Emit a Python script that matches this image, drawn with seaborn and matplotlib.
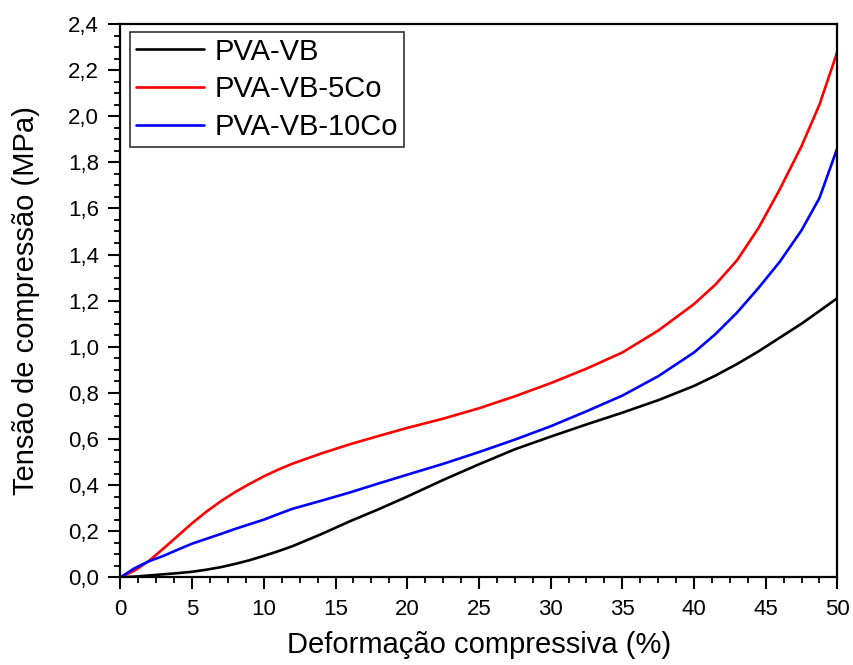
import numpy as np
import pandas as pd
import seaborn as sns
import matplotlib.pyplot as plt
from matplotlib.ticker import MultipleLocator, FuncFormatter

deformacao = [0, 1, 2, 3, 4, 5, 6, 7, 8, 9, 10, 11, 12, 14, 16, 18, 20, 22.5, 25,
              27.5, 30, 32.5, 35, 37.5, 40, 41.5, 43, 44.5, 46, 47.5, 48.75, 50]

pva_vb = [0, 0.003, 0.008, 0.013, 0.018, 0.024, 0.033, 0.044, 0.058, 0.074,
          0.093, 0.113, 0.135, 0.187, 0.243, 0.295, 0.35, 0.422, 0.49, 0.555,
          0.61, 0.663, 0.714, 0.768, 0.83, 0.875, 0.925, 0.98, 1.04, 1.10, 1.155, 1.211]

pva_vb_5co = [0, 0.03, 0.072, 0.125, 0.18, 0.235, 0.285, 0.33, 0.37, 0.405,
              0.438, 0.467, 0.493, 0.537, 0.577, 0.613, 0.648, 0.688, 0.733, 0.785,
              0.842, 0.905, 0.975, 1.07, 1.185, 1.27, 1.375, 1.515, 1.685, 1.87, 2.05, 2.28]

pva_vb_10co = [0, 0.04, 0.07, 0.093, 0.12, 0.146, 0.167, 0.188, 0.21, 0.23,
               0.25, 0.274, 0.297, 0.332, 0.368, 0.407, 0.445, 0.492, 0.543, 0.597,
               0.655, 0.72, 0.788, 0.872, 0.975, 1.055, 1.148, 1.255, 1.37, 1.505,
               1.645, 1.862]

amostras = ["PVA-VB", "PVA-VB-5Co", "PVA-VB-10Co"]
cores = ["black", "red", "blue"]

data = pd.DataFrame({
    "x": deformacao * 3,
    "y": pva_vb + pva_vb_5co + pva_vb_10co,
    "Amostra": np.repeat(amostras, len(deformacao))
})

sns.set_style("ticks")
plt.rcParams["font.family"] = ["Liberation Sans", "DejaVu Sans"]
plt.rcParams["text.color"] = "black"
plt.rcParams["axes.labelcolor"] = "black"

fig = plt.figure(figsize=(8.54, 6.65), dpi=100)
ax = fig.add_axes([0.1411, 0.1319, 0.8394, 0.832])

sns.lineplot(data=data, x="x", y="y", hue="Amostra", hue_order=amostras,
             palette=cores, linewidth=1.9, ax=ax)

ax.set_xlim(0, 50)
ax.set_ylim(0, 2.4)
ax.xaxis.set_major_locator(MultipleLocator(5))
ax.xaxis.set_minor_locator(MultipleLocator(1.25))
ax.yaxis.set_major_locator(MultipleLocator(0.2))
ax.yaxis.set_minor_locator(MultipleLocator(0.05))
ax.yaxis.set_major_formatter(FuncFormatter(lambda v, p: f"{v:.1f}".replace(".", ",")))

ax.tick_params(which="major", direction="out", length=8.5, width=1.5,
               labelsize=16, colors="black", pad=7)
ax.tick_params(which="minor", direction="out", length=4.5, width=1.3, colors="black")
for s in ax.spines.values():
    s.set_linewidth(1.6)
    s.set_color("black")

ax.set_xlabel("Deformação compressiva (%)", fontsize=21, labelpad=8, color="black")
ax.set_ylabel("Tensão de compressão (MPa)", fontsize=21, labelpad=20, color="black")

leg = ax.legend(loc="upper left", bbox_to_anchor=(0.013, 0.986), fontsize=21,
                frameon=True, fancybox=False, edgecolor="black",
                handlelength=2.35, borderpad=0.2, labelspacing=0.33,
                handletextpad=0.35, borderaxespad=0)
leg.get_frame().set_linewidth(1.2)
for t in leg.get_texts():
    t.set_color("black")

fig.savefig("out.png", dpi=100)
